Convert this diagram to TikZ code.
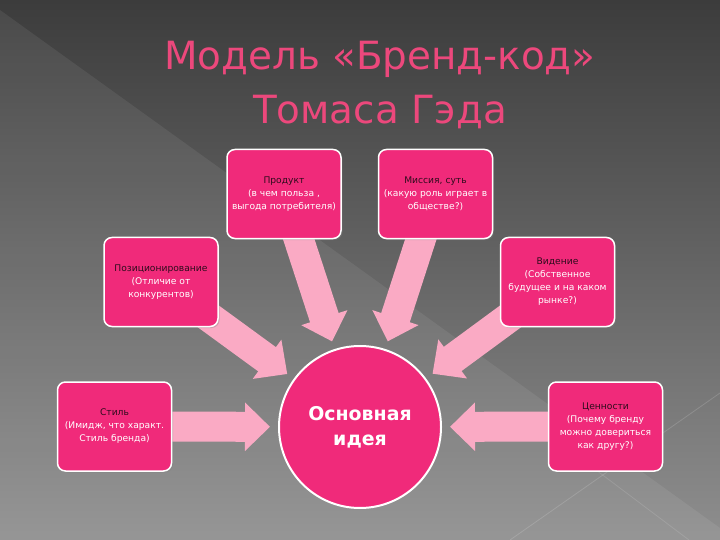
\documentclass[tikz,border=0pt]{standalone}
\usepackage{fontspec}
\setmainfont{DejaVu Sans}
\usetikzlibrary{arrows.meta,shadows}

\definecolor{hotpink}{RGB}{240,42,122}
\definecolor{lightpink}{RGB}{250,170,196}
\definecolor{titlepink}{RGB}{236,72,124}
\definecolor{darkhead}{RGB}{45,12,28}

\pgfdeclarelayer{backdrop}
\pgfdeclarelayer{flows}
\pgfsetlayers{backdrop,flows,main}

\begin{document}
\begin{tikzpicture}[x=1bp,y=-1bp,
  box/.style = {draw=white, line width=1.5bp, fill=hotpink, rounded corners=8bp,
    minimum width=114bp, minimum height=89bp, align=center, text=white,
    font=\fontsize{9.2}{13}\selectfont,
    drop shadow={opacity=0.35, shadow xshift=1.5bp, shadow yshift=-1.5bp}},
  core/.style = {draw=white, line width=2bp, fill=hotpink, circle, minimum size=162bp,
    align=center, text=white, font=\bfseries\fontsize{19}{25}\selectfont},
  flow/.style = {draw=lightpink, line width=30bp, shorten >=8bp, shorten <=-20bp,
    -{Triangle[length=25bp,width=47bp]}},
  heading/.style = {align=center, text=titlepink, inner sep=0pt,
    font=\fontsize{39}{54}\selectfont}]
  \useasboundingbox (0,0) rectangle (720,540);

  % background
  \begin{pgfonlayer}{backdrop}
    \shade[top color={rgb,255:red,60;green,60;blue,60}, bottom color={rgb,255:red,142;green,142;blue,142}]
      (0,0) rectangle (720,540);
    \fill[white, opacity=0.07] (0,10) -- (720,528) -- (720,540) -- (0,540) -- cycle;
    \draw[white, opacity=0.15, line width=0.8bp] (510,540) -- (720,393);
    \draw[white, opacity=0.12, line width=0.8bp] (592,467) -- (689,540);
  \end{pgfonlayer}

  \node[heading] (title) at (380,85) {Модель «Бренд-код»\\Томаса Гэда};

  \node[core] (idea) at (360,427) {Основная\\идея};
  \node[box] (prod) at (284,194) {\textcolor{darkhead}{Продукт}\\(в чем польза ,\\выгода потребителя)};
  \node[box] (miss) at (435.5,194) {\textcolor{darkhead}{Миссия, суть}\\(какую роль играет в\\обществе?)};
  \node[box] (pos) at (161,282) {\textcolor{darkhead}{Позиционирование}\\(Отличие от\\конкурентов)};
  \node[box] (vis) at (557.5,282) {\textcolor{darkhead}{Видение}\\(Собственное\\будущее и на каком\\рынке?)};
  \node[box] (stil) at (114.5,426.5) {\textcolor{darkhead}{Стиль}\\(Имидж, что характ.\\Стиль бренда)};
  \node[box] (val) at (605.5,426.5) {\textcolor{darkhead}{Ценности}\\(Почему бренду\\можно довериться\\как другу?)};

  \begin{pgfonlayer}{flows}
    \draw[flow] (prod) -- (idea);
    \draw[flow] (miss) -- (idea);
    \draw[flow] (pos) -- (idea);
    \draw[flow] (vis) -- (idea);
    \draw[flow] (stil) -- (idea);
    \draw[flow] (val) -- (idea);
  \end{pgfonlayer}
\end{tikzpicture}
\end{document}
